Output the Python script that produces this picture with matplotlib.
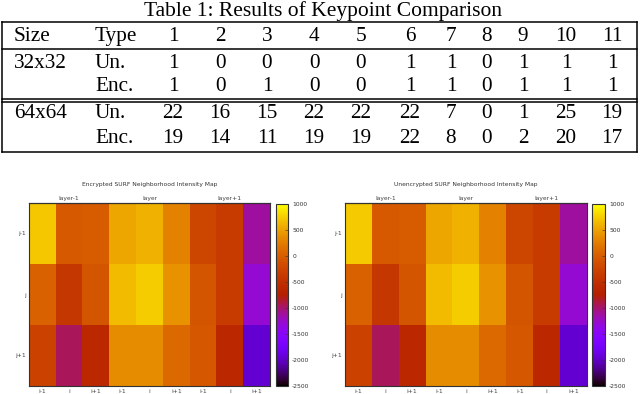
import numpy as np
import matplotlib
matplotlib.use('Agg')
import matplotlib.pyplot as plt
from matplotlib.colors import ListedColormap

plt.rcParams['axes.unicode_minus'] = False

# ---- table data ----
table_title = 'Table 1: Results of Keypoint Comparison'
header = ['Size', 'Type', '1', '2', '3', '4', '5', '6', '7', '8', '9', '10', '11']
sizes = ['32x32', '', '64x64', '']
types = ['Un.', 'Enc.', 'Un.', 'Enc.']
un_32 = [1, 0, 0, 0, 0, 1, 1, 0, 1, 1, 1]
enc_32 = [1, 0, 1, 0, 0, 1, 1, 0, 1, 1, 1]
un_64 = [22, 16, 15, 22, 22, 22, 7, 0, 1, 25, 19]
enc_64 = [19, 14, 11, 19, 19, 22, 8, 0, 2, 20, 17]

# ---- heatmap data ----
row_labels = ['j-1', 'j', 'j+1']
col_labels = ['i-1', 'i', 'i+1'] * 3
layer_labels = ['layer-1', 'layer', 'layer+1']
enc_map = np.array([
    [720, -30, 0, 530, 590, 300, -225, -340, -1120],
    [30, -400, -75, 645, 750, 400, -75, -340, -1290],
    [-280, -945, -610, 366, 366, 100, -50, -610, -1960],
])
unenc_map = np.array([
    [740, -30, 0, 530, 590, 300, -225, -340, -1120],
    [30, -400, -75, 645, 750, 400, -75, -340, -1290],
    [-280, -950, -610, 366, 366, 100, -50, -610, -1960],
])
cb_ticks = [1000, 500, 0, -500, -1000, -1500, -2000, -2500]

# gnuplot default pm3d palette (rgbformulae 7,5,15)
t = np.linspace(0, 1, 256)
cmap = ListedColormap(np.column_stack([np.sqrt(t), t**3, np.clip(np.sin(2*np.pi*t), 0, 1)]))

fig = plt.figure(figsize=(6.4, 3.94), dpi=100)

# table drawn in pixel coordinates
tab = fig.add_axes([0, 0, 1, 1])
tab.set_xlim(0, 640)
tab.set_ylim(394, 0)
tab.axis('off')
serif = 'Liberation Serif'
fs = 15.3
tab.text(323, 16, table_title, ha='center', va='baseline', fontsize=15.5, family=serif)
for y in [22.3, 49.3, 99.3, 102.3, 152.3]:
    tab.plot([2, 637], [y, y], color='black', lw=1.1)
tab.plot([2, 2], [22.3, 152.3], color='black', lw=1.1)
tab.plot([637, 637], [22.3, 152.3], color='black', lw=1.1)

col_x = [173, 220, 267, 314, 361, 410, 451, 487, 523, 566, 612]
row_y = [68.3, 91, 118.3, 142.7]
tab.text(14, 41, header[0], ha='left', va='baseline', fontsize=fs, family=serif)
tab.text(95, 41, header[1], ha='left', va='baseline', fontsize=fs, family=serif)
for x, h in zip(col_x, header[2:]):
    tab.text(x, 41, h, ha='center', va='baseline', fontsize=fs, family=serif)
for k, vals in enumerate([un_32, enc_32, un_64, enc_64]):
    tab.text(14, row_y[k], sizes[k], ha='left', va='baseline', fontsize=fs, family=serif)
    tab.text(95, row_y[k], types[k], ha='left', va='baseline', fontsize=fs, family=serif)
    for x, v in zip(col_x, vals):
        tab.text(x, row_y[k], str(v), ha='center', va='baseline', fontsize=fs, family=serif)

W, H = 640, 394


def heat(data, title, px, cbx):
    ax = fig.add_axes([px[0]/W, (H-386)/H, (px[1]-px[0])/W, 183/H])
    im = ax.imshow(data, cmap=cmap, vmin=-2500, vmax=1000, aspect='auto',
                   interpolation='nearest', extent=[0, 9, 3, 0])
    ax.set_xticks(np.arange(9) + 0.5)
    ax.set_xticklabels(col_labels)
    ax.set_yticks(np.arange(3) + 0.5)
    ax.set_yticklabels(row_labels)
    ax.tick_params(length=0, labelsize=4.3, colors='#444444', pad=2)
    for s in ax.spines.values():
        s.set_color('#333333')
        s.set_linewidth(0.8)
    top = ax.secondary_xaxis('top')
    top.set_xticks([1.5, 4.5, 7.5])
    top.set_xticklabels(layer_labels)
    top.tick_params(length=0, labelsize=4.3, colors='#444444', pad=1.5)
    ax.set_title(title, fontsize=4.3, color='#333333', pad=12)
    cax = fig.add_axes([cbx[0]/W, (H-386)/H, (cbx[1]-cbx[0])/W, 182/H])
    cb = fig.colorbar(im, cax=cax, ticks=cb_ticks)
    cb.outline.set_edgecolor('#333333')
    cb.outline.set_linewidth(0.8)
    cax.tick_params(direction='in', length=2, width=0.4, labelsize=4.3,
                    colors='#333333', pad=3)


heat(enc_map, 'Encrypted SURF Neighborhood Intensity Map', (29, 270), (276, 288))
heat(unenc_map, 'Unencrypted SURF Neighborhood Intensity Map', (345, 587), (592, 605))

fig.savefig('out.png', dpi=100)
